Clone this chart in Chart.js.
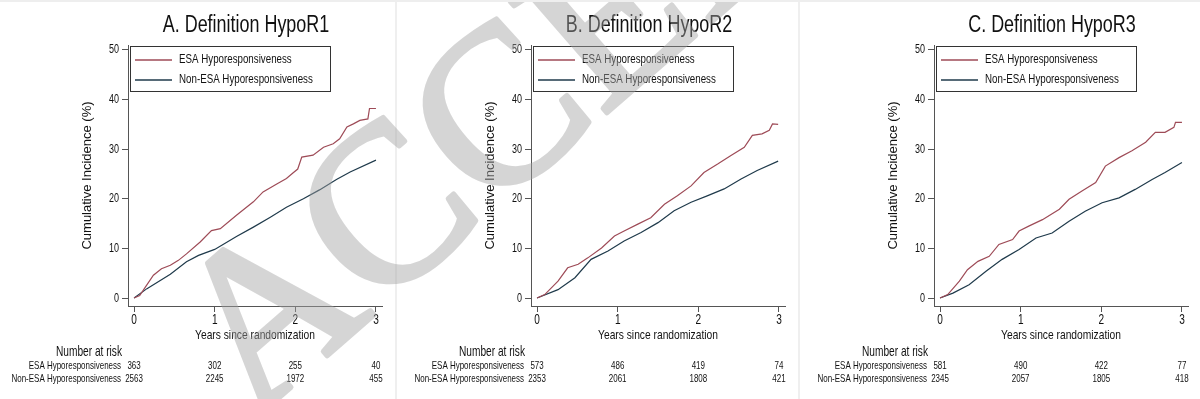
<!DOCTYPE html>
<html>
<head>
<meta charset="utf-8">
<script src="https://cdn.jsdelivr.net/npm/chart.js@4.4.1/dist/chart.umd.min.js"></script>
<style>
html, body { margin: 0; padding: 0; background: #fff; }
#wrap { position: relative; width: 1200px; height: 399px; overflow: hidden; border-top: 2px solid #eeeeee; box-sizing: border-box; }
#wrap canvas { position: absolute; top: 0; }
.sep { position: absolute; top: 0; width: 2px; height: 399px; background: #efefef; }
#mark { z-index: 5; pointer-events: none; opacity: 0.45; }
</style>
</head>
<body>
<div id="wrap">
  <div class="sep" style="left:395px"></div>
  <div class="sep" style="left:798px"></div>
  <canvas id="cA" width="394" height="399" style="left:0"></canvas>
  <canvas id="cB" width="394" height="399" style="left:403px"></canvas>
  <canvas id="cC" width="394" height="399" style="left:806px"></canvas>
  <canvas id="mark" width="1200" height="399" style="left:0"></canvas>
</div>
<script>
// axis ticks / risk table time points
const xTicks = [0, 1, 2, 3];
const yTicks = [0, 10, 20, 30, 40, 50];
const riskYears = [0, 1, 2, 3];

// A. HypoR1
const tEsaA = [0, 0.07, 0.14, 0.24, 0.34, 0.45, 0.55, 0.65, 0.82, 0.96, 1.07, 1.27, 1.48, 1.60, 1.77, 1.89, 1.97, 2.03, 2.08, 2.22, 2.35, 2.47, 2.55, 2.64, 2.72, 2.80, 2.90, 2.92, 3.0];
const yEsaA = [0, 0.5, 2.2, 4.6, 5.9, 6.6, 7.6, 8.9, 11.3, 13.6, 14.0, 16.7, 19.4, 21.4, 23.0, 24.1, 25.2, 26.0, 28.4, 28.8, 30.4, 31.1, 32.1, 34.5, 35.1, 35.8, 36.1, 38.2, 38.2];
const tNonA = [0, 0.16, 0.45, 0.65, 0.80, 1.0, 1.27, 1.48, 1.69, 1.89, 2.10, 2.30, 2.51, 2.68, 3.0];
const yNonA = [0, 1.9, 4.8, 7.3, 8.6, 9.8, 12.4, 14.3, 16.3, 18.3, 20.0, 21.8, 23.9, 25.4, 27.8];
const riskEsaA = [363, 302, 255, 40];
const riskNonA = [2563, 2245, 1972, 455];

// B. HypoR2
const tEsaB = [0, 0.095, 0.26, 0.38, 0.51, 0.63, 0.80, 0.96, 1.08, 1.25, 1.41, 1.58, 1.74, 1.91, 2.07, 2.24, 2.40, 2.57, 2.67, 2.79, 2.88, 2.92, 2.99];
const yEsaB = [0, 0.7, 3.4, 6.1, 6.8, 8.1, 10.1, 12.5, 13.5, 14.9, 16.2, 18.9, 20.6, 22.6, 25.3, 27.0, 28.7, 30.4, 32.8, 33.1, 33.8, 35.1, 35.0];
const tNonB = [0, 0.26, 0.47, 0.67, 0.88, 1.08, 1.29, 1.50, 1.70, 1.91, 2.11, 2.32, 2.53, 2.73, 2.99];
const yNonB = [0, 1.7, 4.1, 7.8, 9.5, 11.5, 13.2, 15.2, 17.6, 19.3, 20.6, 22.0, 24.0, 25.7, 27.6];
const riskEsaB = [573, 486, 419, 74];
const riskNonB = [2353, 2061, 1808, 421];

// C. HypoR3
const tEsaC = [0, 0.095, 0.24, 0.34, 0.47, 0.61, 0.73, 0.90, 0.98, 1.10, 1.27, 1.48, 1.60, 1.76, 1.93, 2.05, 2.22, 2.38, 2.55, 2.67, 2.79, 2.90, 2.92, 3.0];
const yEsaC = [0, 0.7, 3.4, 5.7, 7.4, 8.4, 10.8, 11.8, 13.5, 14.5, 15.8, 17.9, 19.9, 21.6, 23.3, 26.6, 28.3, 29.7, 31.4, 33.4, 33.4, 34.4, 35.4, 35.4];
const tNonC = [0, 0.16, 0.36, 0.57, 0.77, 0.98, 1.19, 1.39, 1.60, 1.80, 2.01, 2.22, 2.42, 2.63, 2.79, 3.0];
const yNonC = [0, 1.0, 2.7, 5.4, 7.8, 9.8, 12.1, 13.1, 15.5, 17.5, 19.2, 20.2, 21.9, 23.9, 25.3, 27.3];
const riskEsaC = [581, 490, 422, 77];
const riskNonC = [2345, 2057, 1805, 418];

const esaColor = '#9e4b57';
const nonColor = '#1f3a4b';
const axisColor = '#555555';
const sans = '"Liberation Sans", Arial, sans-serif';

// "ACCEPTED" watermark laid over the panels
const mk = document.getElementById('mark').getContext('2d');
mk.save();
mk.translate(214, 374);
mk.rotate(-41 * Math.PI / 180);
mk.font = '225px "Liberation Serif", serif';
mk.fillStyle = '#a3a3a3';
mk.strokeStyle = '#a3a3a3';
mk.lineWidth = 5;
mk.lineJoin = 'round';
mk.textBaseline = 'middle';
mk.fillText('ACCEPTED', 0, 0);
mk.strokeText('ACCEPTED', 0, 0);
mk.restore();

const pts = (t, y) => t.map((v, i) => ({ x: v, y: y[i] }));

// condensed text (the original uses a narrow face)
function txt(ctx, s, x, y, size, sx, align) {
  ctx.save();
  ctx.translate(x, y);
  ctx.scale(sx, 1);
  ctx.font = size + 'px ' + sans;
  ctx.textAlign = align;
  ctx.fillText(s, 0, 0);
  ctx.restore();
}

const panelDecor = {
  id: 'panelDecor',
  afterDraw(chart) {
    const o = chart.options.plugins.panelDecor;
    const ctx = chart.ctx;
    const a = chart.chartArea;
    const xs = chart.scales.x;
    const ys = chart.scales.y;
    ctx.save();
    ctx.fillStyle = '#111';
    ctx.textBaseline = 'middle';

    // title
    txt(ctx, o.title, 246, 24, 23, 0.78, 'center');

    // tick labels
    ys.ticks.forEach(t => txt(ctx, String(t.value), a.left - 9, ys.getPixelForValue(t.value), 12.5, 0.72, 'right'));
    xs.ticks.forEach(t => txt(ctx, String(t.value), xs.getPixelForValue(t.value), 318, 14, 0.72, 'center'));
    txt(ctx, 'Years since randomization', (a.left + a.right) / 2, 333, 13.5, 0.76, 'center');

    // legend box
    const bx = a.left + 2, by = a.top + 1;
    ctx.strokeStyle = '#333';
    ctx.lineWidth = 1;
    ctx.strokeRect(bx + 0.5, by + 0.5, 200, 45);
    chart.data.datasets.forEach((ds, i) => {
      const ly = by + 14 + i * 20;
      ctx.strokeStyle = ds.borderColor;
      ctx.lineWidth = 1.3;
      ctx.beginPath();
      ctx.moveTo(bx + 5, ly);
      ctx.lineTo(bx + 42, ly);
      ctx.stroke();
      txt(ctx, ds.label, bx + 49, ly, 12.5, 0.78, 'left');
    });

    // number at risk table
    txt(ctx, 'Number at risk', 89, 350, 14.5, 0.7, 'center');
    const rows = [o.riskEsa, o.riskNon];
    rows.forEach((vals, r) => {
      const ry = 364 + r * 13.5;
      txt(ctx, chart.data.datasets[r].label, 121, ry, 10.5, 0.76, 'right');
      vals.forEach((v, i) => txt(ctx, String(v), xs.getPixelForValue(riskYears[i]), ry, 10.5, 0.76, 'center'));
    });
    ctx.restore();
  }
};

function km(id, title, esa, non, riskEsa, riskNon) {
  return new Chart(document.getElementById(id), {
    type: 'line',
    data: {
      datasets: [
        { label: 'ESA Hyporesponsiveness', data: esa, borderColor: esaColor, borderWidth: 1.2, pointRadius: 0, tension: 0, fill: false },
        { label: 'Non-ESA Hyporesponsiveness', data: non, borderColor: nonColor, borderWidth: 1.2, pointRadius: 0, tension: 0, fill: false }
      ]
    },
    options: {
      responsive: false,
      animation: false,
      devicePixelRatio: 1,
      layout: { padding: { top: 43, right: 12, bottom: 0, left: 0 } },
      plugins: {
        legend: { display: false },
        tooltip: { enabled: false },
        panelDecor: { title: title, riskEsa: riskEsa, riskNon: riskNon }
      },
      scales: {
        x: {
          type: 'linear',
          min: -0.075,
          max: 3.075,
          afterBuildTicks: s => { s.ticks = xTicks.map(v => ({ value: v })); },
          afterFit: s => { s.height = 95; },
          ticks: { display: false },
          grid: { drawOnChartArea: false, drawTicks: true, tickLength: 6, color: axisColor },
          border: { display: true, color: axisColor, width: 1 }
        },
        y: {
          min: -1.6,
          max: 51,
          afterBuildTicks: s => { s.ticks = yTicks.map(v => ({ value: v })); },
          afterFit: s => { s.width = 128; },
          ticks: { display: false },
          grid: { drawOnChartArea: false, drawTicks: true, tickLength: 6, color: axisColor },
          border: { display: true, color: axisColor, width: 1 },
          title: { display: true, text: 'Cumulative Incidence (%)', color: '#111', font: { family: sans, size: 13 }, padding: { top: 80, bottom: 0 } }
        }
      }
    },
    plugins: [panelDecor]
  });
}

km('cA', 'A. Definition HypoR1', pts(tEsaA, yEsaA), pts(tNonA, yNonA), riskEsaA, riskNonA);
km('cB', 'B. Definition HypoR2', pts(tEsaB, yEsaB), pts(tNonB, yNonB), riskEsaB, riskNonB);
km('cC', 'C. Definition HypoR3', pts(tEsaC, yEsaC), pts(tNonC, yNonC), riskEsaC, riskNonC);
</script>
</body>
</html>
